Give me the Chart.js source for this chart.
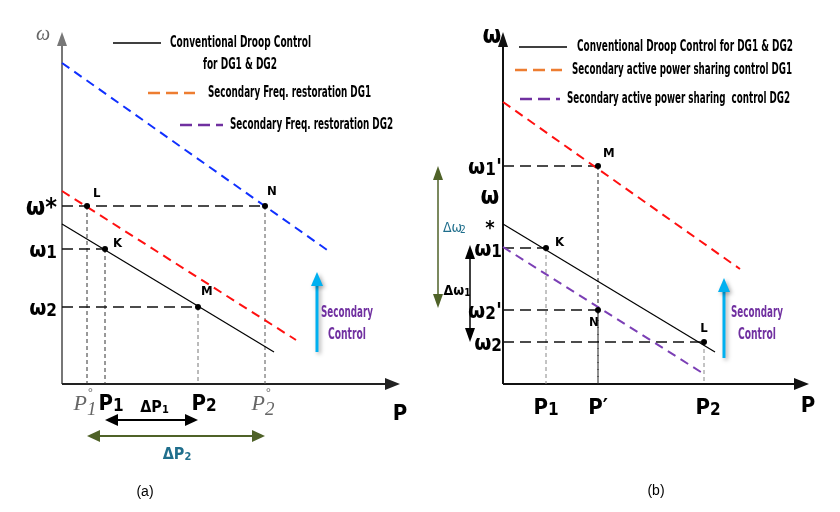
<!DOCTYPE html>
<html>
<head>
<meta charset="utf-8">
<script src="https://cdn.jsdelivr.net/npm/chart.js@4.4.1/dist/chart.umd.min.js"></script>
<style>
  html, body { margin: 0; padding: 0; background: #fff; }
  #wrap { position: relative; width: 840px; height: 512px; }
  .pane { position: absolute; top: 0; width: 420px; height: 512px; }
</style>
</head>
<body>
<div id="wrap">
  <div class="pane" style="left:0"><canvas id="chartA" width="420" height="512"></canvas></div>
  <div class="pane" style="left:420px"><canvas id="chartB" width="420" height="512"></canvas></div>
</div>
<script>
// Values are in axis units, origin where the P and omega axes cross.

// ---- panel (a): secondary frequency restoration ----
const droopA = [{x: 0, y: 160}, {x: 212, y: 32}];
const freqDG1A = [{x: 0, y: 193}, {x: 234, y: 44}];
const freqDG2A = [{x: 0, y: 321}, {x: 268, y: 132}];
const pointNamesA = ['L', 'K', 'M', 'N'];
const pointsA = [{x: 25, y: 178}, {x: 43, y: 135}, {x: 136, y: 77}, {x: 203, y: 178}];
const hGuideA = [3, 1, 2];          // horizontal dashes from the axis to these points
const yTickLabelsA = ['ω*', 'ω_1', 'ω_2'];
const yTickValuesA = [178, 135, 77];
const xTickLabelsA = ['P_1', 'P_2'];
const xTickValuesA = [43, 136];
const xNominalLabelsA = ['P_1', 'P_2'];
const xNominalValuesA = [25, 203];

// ---- panel (b): secondary active power sharing ----
const droopB = [{x: 0, y: 160}, {x: 212, y: 32}];
const shareDG1B = [{x: 0, y: 282}, {x: 237, y: 115}];
const shareDG2B = [{x: 0, y: 137}, {x: 201, y: 10}];
const pointNamesB = ['M', 'K', 'N', 'L'];
const pointsB = [{x: 95, y: 218}, {x: 43, y: 136}, {x: 95, y: 74}, {x: 201, y: 42}];
const hGuideB = [0, 1, 2, 3];
const yTickLabelsB = ["ω_1'", 'ω_1', "ω_2'", 'ω_2'];
const yTickValuesB = [218, 136, 74, 42];
const xTickLabelsB = ['P_1', 'P′', 'P_2'];
const xTickValuesB = [43, 95, 201];

const FONT = '"Liberation Sans Narrow", "DejaVu Sans Condensed", sans-serif';
const RED = '#FF1010', BLUE = '#1030FF', ORANGE = '#ED7D31', PURPLE = '#7030A0';
const PURPLE_LINE = '#7B3FB5', CYAN = '#00B0F0', GREEN = '#4F6228', TEAL = '#1F6E8C';

function line(data, color, width, dash) {
  return { data, showLine: true, borderColor: color, borderWidth: width, borderDash: dash || [],
           pointRadius: 0, fill: false, clip: false };
}
function dots(data) {
  return { data, showLine: false, pointRadius: 3, pointBackgroundColor: '#000',
           pointBorderWidth: 0, clip: false };
}

function txt(ctx, s, x, y, size, color, align, opts = {}) {
  ctx.save();
  ctx.font = `${opts.italic ? 'italic ' : ''}${opts.weight || 'bold'} ${size}px ${opts.family || FONT}`;
  ctx.fillStyle = color;
  ctx.textAlign = align || 'left';
  ctx.textBaseline = 'middle';
  if (opts.maxWidth) ctx.fillText(s, x, y, opts.maxWidth); else ctx.fillText(s, x, y);
  ctx.restore();
}

// label like "ω_1'" -> big ω, small 1, then the tail
function subLabel(ctx, spec, x, y, size, color, align, opts = {}) {
  const parts = spec.split('_');
  const base = parts[0];
  const m = (parts[1] || '').match(/^(\d*)(.*)$/);
  const sub = m[1], tail = m[2];
  const style = `${opts.italic ? 'italic ' : ''}${opts.weight || 'bold'}`;
  const family = opts.family || FONT;
  const big = `${style} ${size}px ${family}`;
  const small = `${style} ${Math.round(size * (opts.subRatio || 0.7))}px ${family}`;
  ctx.save();
  ctx.fillStyle = color;
  ctx.textBaseline = 'alphabetic';
  ctx.font = big; const bw = ctx.measureText(base).width; const tw = ctx.measureText(tail).width;
  ctx.font = small; const sw = ctx.measureText(sub).width;
  const total = bw + sw + tw;
  const x0 = align === 'right' ? x - total : align === 'center' ? x - total / 2 : x;
  const base_y = y + size * 0.35;
  ctx.font = big; ctx.fillText(base, x0, base_y);
  ctx.font = small; ctx.fillText(sub, x0 + bw, base_y + size * (opts.subDrop || 0.06));
  if (opts.degree) {
    ctx.font = `${Math.round(size * 0.55)}px ${family}`;
    ctx.fillText('°', x0 + bw + 1, base_y - size * 0.62);
  }
  ctx.font = big; ctx.fillText(tail, x0 + bw + sw, base_y);
  ctx.restore();
}

function arrow(ctx, x1, y1, x2, y2, color, width, head, headW, both) {
  const ang = Math.atan2(y2 - y1, x2 - x1);
  const tip = (x, y, a) => {
    ctx.beginPath();
    ctx.moveTo(x, y);
    ctx.lineTo(x - head * Math.cos(a) + headW * Math.sin(a), y - head * Math.sin(a) - headW * Math.cos(a));
    ctx.lineTo(x - head * Math.cos(a) - headW * Math.sin(a), y - head * Math.sin(a) + headW * Math.cos(a));
    ctx.closePath();
    ctx.fill();
  };
  ctx.save();
  ctx.strokeStyle = color; ctx.fillStyle = color; ctx.lineWidth = width;
  ctx.beginPath();
  ctx.moveTo(both ? x1 + (head - 2) * Math.cos(ang) : x1, both ? y1 + (head - 2) * Math.sin(ang) : y1);
  ctx.lineTo(x2 - (head - 2) * Math.cos(ang), y2 - (head - 2) * Math.sin(ang));
  ctx.stroke();
  tip(x2, y2, ang);
  if (both) tip(x1, y1, ang + Math.PI);
  ctx.restore();
}

function swatch(ctx, x1, x2, y, color, width, dash) {
  ctx.save();
  ctx.strokeStyle = color; ctx.lineWidth = width; ctx.setLineDash(dash || []);
  ctx.beginPath(); ctx.moveTo(x1, y); ctx.lineTo(x2, y); ctx.stroke();
  ctx.restore();
}

function guideSets(points, hIdx, hColor, vColors) {
  const sets = [];
  hIdx.forEach(i => sets.push(line([{x: 0, y: points[i].y}, points[i]], hColor, 1.3, [11, 6])));
  points.forEach((p, i) => sets.push(line([p, {x: p.x, y: 0}], vColors[i], 1, [4, 3])));
  return sets;
}

function makePanel(id, cfg) {
  return new Chart(document.getElementById(id), {
    type: 'scatter',
    data: { datasets: cfg.datasets },
    options: {
      responsive: false,
      animation: false,
      layout: { padding: cfg.padding },
      plugins: { legend: { display: false }, tooltip: { enabled: false } },
      scales: {
        x: { type: 'linear', display: false, min: 0, max: cfg.xMax },
        y: { type: 'linear', display: false, min: 0, max: 354 }
      }
    },
    plugins: [{ id: 'sketch', beforeDatasetsDraw: cfg.drawAxes, afterDraw: cfg.drawText }]
  });
}

// ---------- chart (a) ----------
const chartA = makePanel('chartA', {
  padding: { left: 62, right: 20, top: 30, bottom: 128 },
  xMax: 338,
  datasets: [
    dots(pointsA),
    line(droopA, '#000', 1.2),
    line(freqDG1A, RED, 2, [9, 6]),
    line(freqDG2A, BLUE, 2, [9, 6]),
    ...guideSets(pointsA, hGuideA, '#111', ['#333', '#333', '#777', '#555'])
  ],
  drawAxes: (chart) => {
    const ctx = chart.ctx, X = v => chart.scales.x.getPixelForValue(v), Y = v => chart.scales.y.getPixelForValue(v);
    arrow(ctx, X(0), Y(0), X(0), Y(352), '#777', 2, 14, 5);
    arrow(ctx, X(0), Y(0), X(338), Y(0), '#222', 2, 15, 6);
  },
  drawText: (chart) => {
    const ctx = chart.ctx, X = v => chart.scales.x.getPixelForValue(v), Y = v => chart.scales.y.getPixelForValue(v);
    txt(ctx, 'ω', 43, 35, 20, '#666', 'center', { italic: true, weight: 'normal', family: '"Liberation Serif", serif' });

    // legend
    swatch(ctx, 113, 161, 43, '#000', 1.5);
    txt(ctx, 'Conventional Droop Control', 170, 43, 15, '#000', 'left', { maxWidth: 141 });
    txt(ctx, 'for DG1 & DG2', 240, 65, 15, '#000', 'center', { maxWidth: 74 });
    swatch(ctx, 148, 195, 93, ORANGE, 2.5, [12, 6]);
    txt(ctx, 'Secondary Freq. restoration DG1', 208, 93, 15, '#000', 'left', { maxWidth: 163 });
    swatch(ctx, 180, 223, 125, PURPLE, 2.5, [12, 6]);
    txt(ctx, 'Secondary Freq. restoration DG2', 230, 125, 15, '#000', 'left', { maxWidth: 163 });

    // omega levels
    yTickLabelsA.forEach((s, i) => subLabel(ctx, s, X(0) - 5, Y(yTickValuesA[i]), s === 'ω*' ? 25 : 22, '#000', 'right', { subRatio: 0.78 }));
    // power levels
    xTickLabelsA.forEach((s, i) => subLabel(ctx, s, X(xTickValuesA[i]) + 6, Y(-18), 22, '#000', 'center', { subRatio: 0.75 }));
    xNominalLabelsA.forEach((s, i) => subLabel(ctx, s, X(xNominalValuesA[i]) - 2, Y(-18), 22, '#666', 'center',
      { italic: true, weight: 'normal', family: '"Liberation Serif", serif', degree: true, subRatio: 0.85, subDrop: 0.22 }));
    txt(ctx, 'P', X(338), Y(-30), 22, '#000', 'center');

    // operating points
    const offA = [[6, -12], [8, -5], [3, -15], [2, -14]];
    pointNamesA.forEach((s, i) => txt(ctx, s, X(pointsA[i].x) + offA[i][0], Y(pointsA[i].y) + offA[i][1], 13, '#000', 'left'));

    // delta P spans
    const k = pointsA[1], m = pointsA[2], l = pointsA[0], n = pointsA[3];
    arrow(ctx, X(k.x), Y(-36), X(m.x), Y(-36), '#000', 2, 13, 6, true);
    subLabel(ctx, 'ΔP_1', (X(k.x) + X(m.x)) / 2 + 3, Y(-22), 16, '#000', 'center');
    arrow(ctx, X(l.x), Y(-52), X(n.x), Y(-52), GREEN, 2, 13, 6, true);
    subLabel(ctx, 'ΔP_2', (X(l.x) + X(n.x)) / 2 + 1, Y(-69), 16, TEAL, 'center');

    // secondary control hint
    ctx.save();
    ctx.shadowColor = 'rgba(0,0,0,0.35)'; ctx.shadowBlur = 4; ctx.shadowOffsetX = 2; ctx.shadowOffsetY = 2;
    arrow(ctx, X(255), Y(32), X(255), Y(112), CYAN, 3, 14, 6);
    ctx.restore();
    txt(ctx, 'Secondary', 347, 313, 15, PURPLE, 'center', { maxWidth: 52 });
    txt(ctx, 'Control', 347, 335, 15, PURPLE, 'center', { maxWidth: 38 });

    txt(ctx, '(a)', 145, 492, 14, '#000', 'center', { weight: 'normal', family: '"Liberation Sans", sans-serif' });
  }
});

// ---------- chart (b) ----------
const chartB = makePanel('chartB', {
  padding: { left: 83, right: 31, top: 30, bottom: 128 },
  xMax: 306,
  datasets: [
    dots(pointsB),
    line(droopB, '#000', 1.2),
    line(shareDG1B, RED, 2, [9, 6]),
    line(shareDG2B, PURPLE_LINE, 2, [9, 6]),
    ...guideSets(pointsB, hGuideB, '#111', ['#222', '#888', '#222', '#888'])
  ],
  drawAxes: (chart) => {
    const ctx = chart.ctx, X = v => chart.scales.x.getPixelForValue(v), Y = v => chart.scales.y.getPixelForValue(v);
    arrow(ctx, X(0), Y(0), X(0), Y(352), '#111', 2, 15, 5);
    arrow(ctx, X(0), Y(0), X(306), Y(0), '#111', 2, 15, 6);
  },
  drawText: (chart) => {
    const ctx = chart.ctx, X = v => chart.scales.x.getPixelForValue(v), Y = v => chart.scales.y.getPixelForValue(v);
    txt(ctx, 'ω', 72, 37, 24, '#000', 'center');

    // legend
    swatch(ctx, 99, 147, 47, '#000', 1.5);
    txt(ctx, 'Conventional Droop Control for DG1 & DG2', 157, 47, 15, '#000', 'left', { maxWidth: 216 });
    swatch(ctx, 95, 142, 70, ORANGE, 2.5, [12, 6]);
    txt(ctx, 'Secondary active power sharing control DG1', 152, 70, 15, '#000', 'left', { maxWidth: 220 });
    swatch(ctx, 100, 140, 99, PURPLE, 2.5, [12, 6]);
    txt(ctx, 'Secondary active power sharing  control DG2', 147, 99, 15, '#000', 'left', { maxWidth: 223 });

    // omega levels
    yTickLabelsB.forEach((s, i) => subLabel(ctx, s, X(0) - 1, Y(yTickValuesB[i]), 22, '#000', 'right', { subRatio: 0.78 }));
    txt(ctx, 'ω', X(0) - 13, Y(186), 24, '#000', 'center');
    txt(ctx, '*', X(0) - 13, Y(155), 20, '#000', 'center');

    // power levels
    xTickLabelsB.forEach((s, i) => subLabel(ctx, s, X(xTickValuesB[i]) + (i === 2 ? 4 : 0), Y(-22), 22, '#000', 'center', { subRatio: 0.75 }));
    txt(ctx, 'P', X(306) - 1, Y(-22), 22, '#000', 'center');

    // operating points
    const offB = [[5, -12], [9, -5], [-9, 13], [0, -13]];
    pointNamesB.forEach((s, i) => txt(ctx, s, X(pointsB[i].x) + offB[i][0], Y(pointsB[i].y) + offB[i][1], 13, '#000', i === 3 ? 'center' : 'left'));

    // delta omega spans
    arrow(ctx, X(-65), Y(76), X(-65), Y(218), GREEN, 1.5, 14, 5, true);
    txt(ctx, 'Δω', X(-60), Y(156), 14, TEAL, 'left', { weight: 'normal' });
    txt(ctx, '2', X(-60) + 17, Y(154), 10, TEAL, 'left', { weight: 'normal' });
    arrow(ctx, X(-33), Y(42), X(-33), Y(139), '#000', 1.5, 14, 5, true);
    subLabel(ctx, 'Δω_1', X(-46), Y(94), 14, '#000', 'center');

    // secondary control hint
    ctx.save();
    ctx.shadowColor = 'rgba(0,0,0,0.35)'; ctx.shadowBlur = 4; ctx.shadowOffsetX = 2; ctx.shadowOffsetY = 2;
    arrow(ctx, X(221), Y(26), X(221), Y(106), CYAN, 3, 14, 6);
    ctx.restore();
    txt(ctx, 'Secondary', 337, 313, 15, PURPLE, 'center', { maxWidth: 52 });
    txt(ctx, 'Control', 337, 335, 15, PURPLE, 'center', { maxWidth: 38 });

    txt(ctx, '(b)', 236, 491, 14, '#000', 'center', { weight: 'normal', family: '"Liberation Sans", sans-serif' });
  }
});
</script>
</body>
</html>
